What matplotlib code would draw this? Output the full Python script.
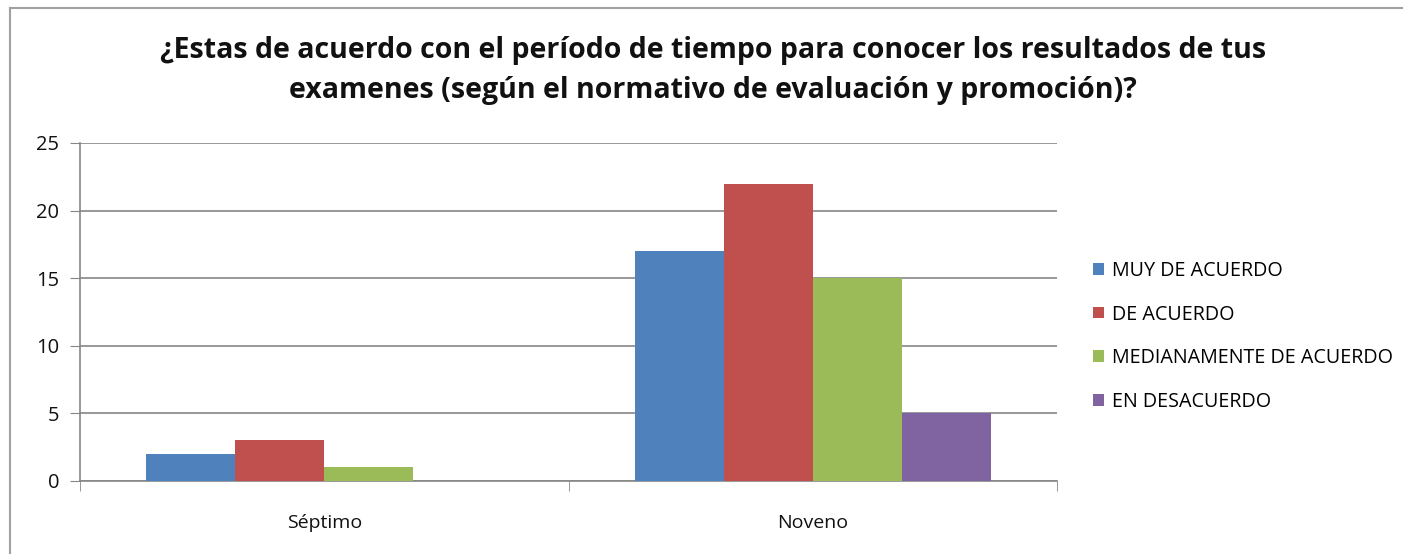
import matplotlib.pyplot as plt
import numpy as np
from matplotlib.lines import Line2D

categories = ['Séptimo', 'Noveno']
series_names = ['MUY DE ACUERDO', 'DE ACUERDO', 'MEDIANAMENTE DE ACUERDO', 'EN DESACUERDO']
muy_de_acuerdo = [2, 17]
de_acuerdo = [3, 22]
medianamente = [1, 15]
en_desacuerdo = [0, 5]
colors = ['#4F81BD', '#C0504D', '#9BBB59', '#8064A2']

plt.rcParams['font.family'] = ['Open Sans', 'DejaVu Sans']

fig = plt.figure(figsize=(14.03, 5.54), dpi=100)
ax = fig.add_axes([80 / 1403, 1 - 481 / 554, 977 / 1403, 338 / 554])

x = np.arange(len(categories))
width = 0.182
values = [muy_de_acuerdo, de_acuerdo, medianamente, en_desacuerdo]
for i, (name, vals) in enumerate(zip(series_names, values)):
    ax.bar(x + (i - 1.5) * width, vals, width, color=colors[i], label=name, zorder=3)

ax.set_xlim(-0.5, 1.5)
ax.set_ylim(0, 25)
ax.set_yticks(range(0, 26, 5))
ax.yaxis.grid(True, color='#868686', linewidth=1.2, zorder=0)
ax.set_xticks(x)
ax.set_xticklabels(categories)
ax.set_xticks([-0.5, 0.5, 1.5], minor=True)
ax.tick_params(axis='x', which='major', length=0, pad=24, labelsize=14, labelcolor='#111111')
ax.tick_params(axis='x', which='minor', length=7, color='#868686', direction='out')
ax.tick_params(axis='y', length=7, color='#868686', labelsize=14.5, pad=8, labelcolor='#111111')
for s in ['top', 'right']:
    ax.spines[s].set_visible(False)
for s in ['left', 'bottom']:
    ax.spines[s].set_color('#868686')
    ax.spines[s].set_linewidth(1.2)

fig.text(0.508, 0.908, '¿Estas de acuerdo con el período de tiempo para conocer los resultados de tus',
         ha='center', va='center', fontsize=20.5, fontweight='bold', color='#111111')
fig.text(0.508, 0.836, 'examenes (según el normativo de evaluación y promoción)?',
         ha='center', va='center', fontsize=20.5, fontweight='bold', color='#111111')

fig.legend(loc='upper left', bbox_to_anchor=(1083 / 1403, 1 - 251 / 554), frameon=False,
           fontsize=14.2, handlelength=0.55, handleheight=0.55, handletextpad=0.4,
           labelspacing=1.2, borderpad=0)

# outer chart border (only left and top visible in the crop)
fig.add_artist(Line2D([10 / 1403, 10 / 1403], [0, 1 - 8 / 554], transform=fig.transFigure,
                      color='#A0A0A0', linewidth=1.5))
fig.add_artist(Line2D([10 / 1403, 1], [1 - 8 / 554, 1 - 8 / 554], transform=fig.transFigure,
                      color='#A0A0A0', linewidth=1.5))

fig.savefig('out.png', dpi=100)
